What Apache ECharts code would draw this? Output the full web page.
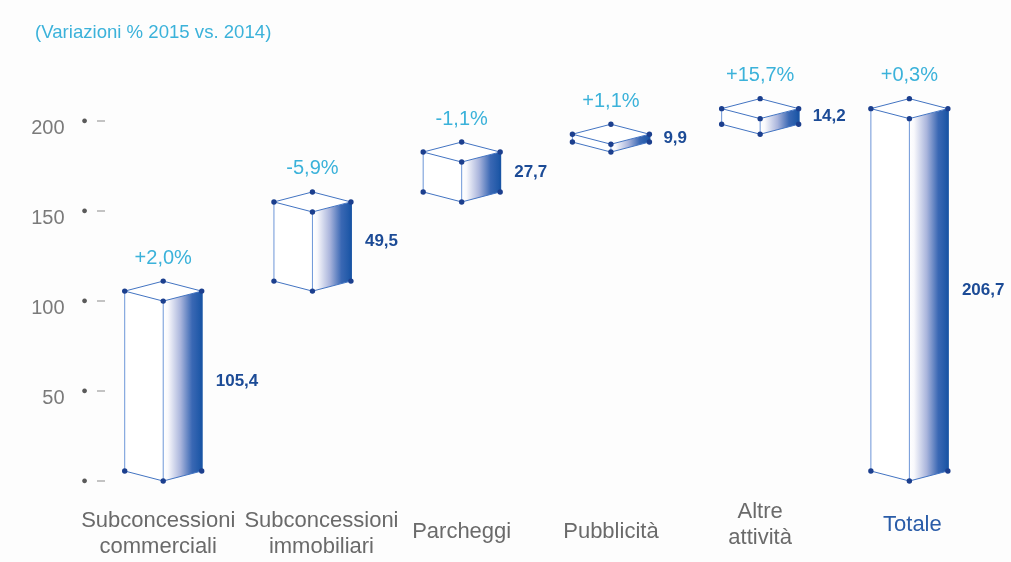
<!DOCTYPE html>
<html>
<head>
<meta charset="utf-8">
<script src="https://cdn.jsdelivr.net/npm/echarts@6/dist/echarts.min.js"></script>
<style>
  html, body { margin: 0; padding: 0; background: #fdfdfd; }
  #chart { width: 1011px; height: 562px; }
</style>
</head>
<body>
<div id="chart"></div>
<script>
// Ricavi non aviation: contributo di ciascuna voce al totale (waterfall)
const categories = ['Subconcessioni\ncommerciali', 'Subconcessioni\nimmobiliari', 'Parcheggi', 'Pubblicità', 'Altre\nattività', 'Totale'];
const amounts = [105.4, 49.5, 27.7, 9.9, 14.2, 206.7];
const changes = ['+2,0%', '-5,9%', '-1,1%', '+1,1%', '+15,7%', '+0,3%'];
const totalIndex = 5;

// running base of each step; the total starts from zero
const bases = [];
let running = 0;
amounts.forEach((v, i) => {
  if (i === totalIndex) { bases.push(0); }
  else { bases.push(running); running += v; }
});
const boxData = amounts.map((v, i) => [i, bases[i], bases[i] + v]);

const CYAN = '#3bb2da';
const NAVY = '#1c4b96';
const EDGE = '#4374c2';
const DOT = '#1c3f8e';
const FONT = '"Liberation Sans", Arial, Helvetica, sans-serif';

const fmt = v => v.toFixed(1).replace('.', ',');

function renderBox(params, api) {
  const i = api.value(0);
  const pb = api.coord([i, api.value(1)]);
  const pt = api.coord([i, api.value(2)]);
  const band = api.size([1, 0])[0];
  const hw = band * 0.258;   // half width of the box
  const d = 10;              // perspective depth of top/bottom faces
  const cx = pb[0], yb = pb[1], yt = pt[1];

  const TB = [cx, yt - d], TL = [cx - hw, yt], TF = [cx, yt + d], TR = [cx + hw, yt];
  const BL = [cx - hw, yb - d], BF = [cx, yb], BR = [cx + hw, yb - d];

  const line = (a, b, color, w) => ({
    type: 'line', shape: { x1: a[0], y1: a[1], x2: b[0], y2: b[1] },
    style: { stroke: color, lineWidth: w }
  });
  const dot = p => ({ type: 'circle', shape: { cx: p[0], cy: p[1], r: 2.7 }, style: { fill: DOT } });

  const children = [
    { type: 'polygon', shape: { points: [TL, TF, BF, BL] }, style: { fill: '#ffffff' } },
    { type: 'polygon', shape: { points: [TF, TR, BR, BF] },
      style: { fill: new echarts.graphic.LinearGradient(0, 0, 1, 0, [
        { offset: 0, color: '#ffffff' },
        { offset: 0.12, color: '#f9f9fc' },
        { offset: 0.45, color: '#aab5dc' },
        { offset: 0.75, color: '#3a68b4' },
        { offset: 1, color: '#1a55a5' }
      ]) } },
    { type: 'polygon', shape: { points: [TB, TR, TF, TL] }, style: { fill: '#ffffff', stroke: EDGE, lineWidth: 1 } },
    line(TL, BL, '#6d96d8', 1),
    line(TF, BF, '#6d96d8', 1),
    line(TR, BR, '#1a55a5', 2),
    line(BL, BF, EDGE, 1),
    line(BF, BR, EDGE, 1),
    dot(TB), dot(TL), dot(TF), dot(TR), dot(BL), dot(BF), dot(BR),
    { type: 'text', style: {
        text: changes[i], x: cx, y: TB[1] - 23, align: 'center', verticalAlign: 'middle',
        fill: CYAN, fontSize: 20, fontFamily: FONT } },
    { type: 'text', style: {
        text: fmt(amounts[i]), x: cx + hw + 14, y: (yt + yb - d) / 2, align: 'left', verticalAlign: 'middle',
        fill: NAVY, fontSize: 17, fontWeight: 'bold', fontFamily: FONT } }
  ];
  return { type: 'group', children };
}

// per-label offsets (padding: top, right, bottom, left) for the category names
const labelPadding = [[10, 10, 0, 0], [10, 0, 0, 18], [21, 0, 0, 0], [21, 0, 0, 0], [1, 0, 0, 0], [14, 0, 0, 6]];
const axisCategories = categories.map((c, i) => ({
  value: c,
  textStyle: Object.assign({ padding: labelPadding[i] }, i === totalIndex ? { color: '#2a5ca8' } : {})
}));

const chart = echarts.init(document.getElementById('chart'), null, { renderer: 'canvas' });
chart.setOption({
  backgroundColor: '#fdfdfd',
  animation: false,
  title: {
    text: '(Variazioni % 2015 vs. 2014)',
    left: 30, top: 18,
    textStyle: { color: CYAN, fontSize: 18.6, fontWeight: 'normal', fontFamily: FONT }
  },
  grid: { left: 88.6, right: 27, top: 120.7, bottom: 81, containLabel: false, outerBoundsMode: 'none' },
  xAxis: {
    type: 'category',
    data: axisCategories,
    axisLine: { show: false },
    axisTick: { show: false },
    axisLabel: {
      interval: 0, margin: 17, lineHeight: 26,
      color: '#6a6a6a', fontSize: 22, fontFamily: FONT
    }
  },
  yAxis: [
    {
      type: 'value', min: 0, max: 200, interval: 50, position: 'left',
      splitLine: { show: false }, axisLine: { show: false }, axisTick: { show: false },
      axisLabel: {
        margin: 24,
        formatter: v => (v === 0 ? '' : '{n|' + v + '}'),
        rich: { n: { color: '#7a7a7a', fontSize: 20, fontFamily: FONT, padding: [16, 0, 0, 0] } }
      }
    },
    {
      type: 'value', min: 0, max: 200, interval: 50, position: 'left', offset: -8.4,
      splitLine: { show: false }, axisLine: { show: false },
      axisTick: { show: true, inside: true, length: 8, lineStyle: { color: '#b0b0b0', width: 1.5 } },
      axisLabel: {
        margin: 9, formatter: () => '{d|●}',
        rich: { d: { fontSize: 11, color: '#5a5a5a', fontFamily: FONT } }
      }
    }
  ],
  series: [{
    type: 'custom',
    renderItem: renderBox,
    data: boxData,
    encode: { x: 0, y: [1, 2] },
    clip: false,
    silent: true
  }]
});
</script>
</body>
</html>
